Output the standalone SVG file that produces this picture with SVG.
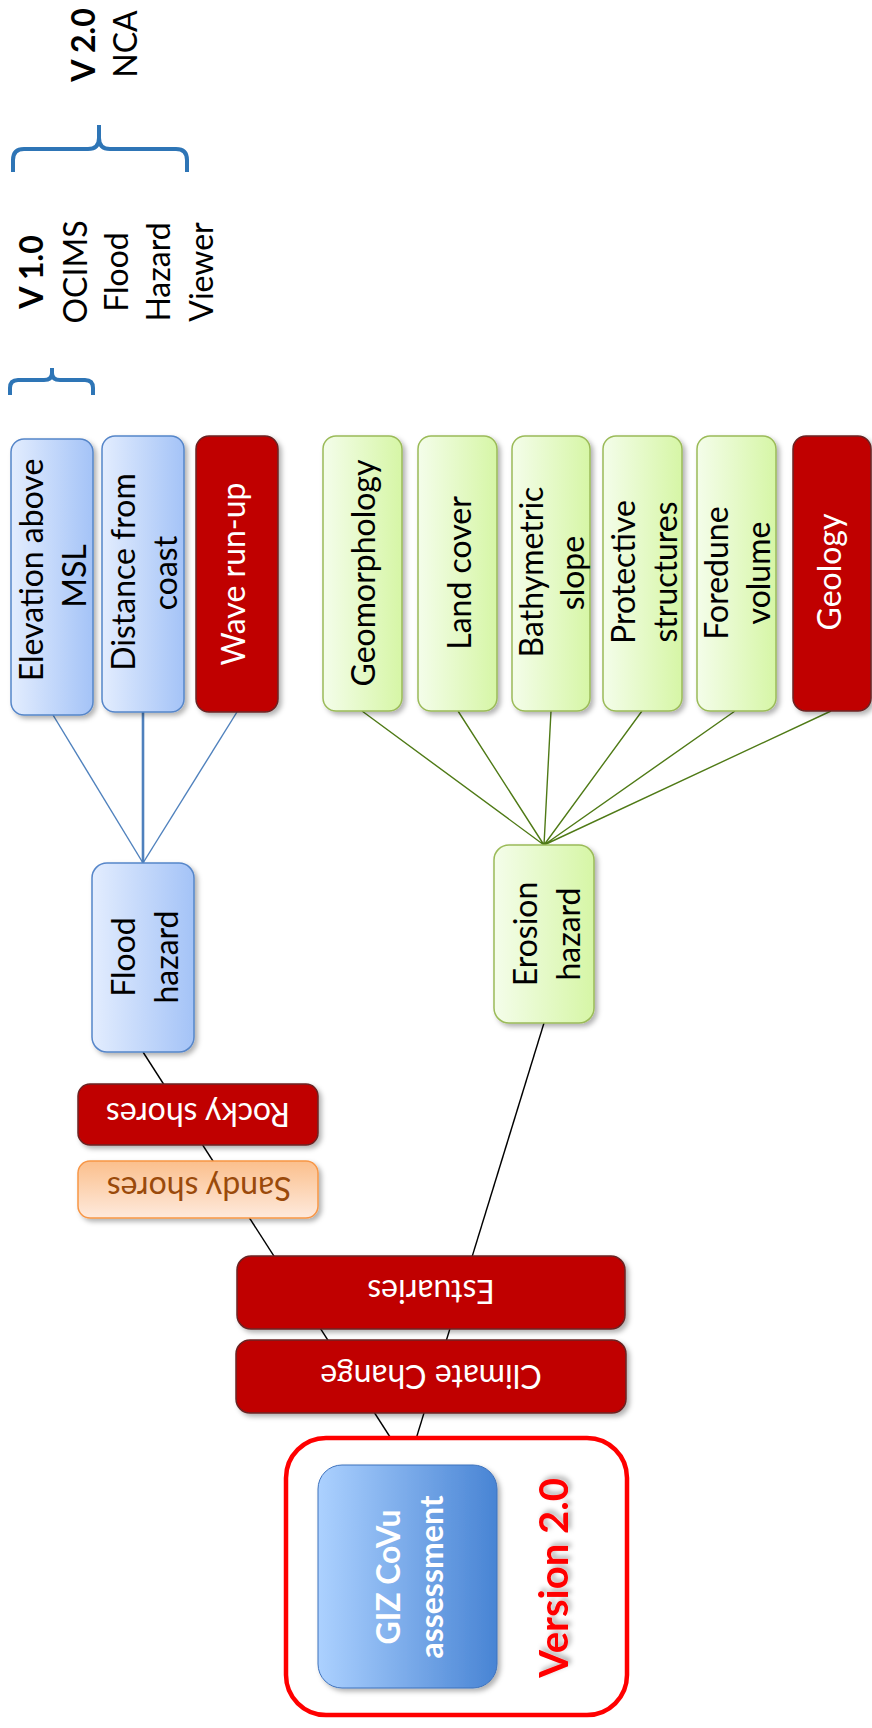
<svg xmlns="http://www.w3.org/2000/svg" width="872" height="1728" viewBox="0 0 872 1728">
  <defs>
    <linearGradient id="gBlue" x1="0" y1="0" x2="1" y2="0">
      <stop offset="0" stop-color="#e3edfe"/>
      <stop offset="1" stop-color="#a4c3f7"/>
    </linearGradient>
    <linearGradient id="gGreen" x1="0" y1="0" x2="1" y2="0">
      <stop offset="0" stop-color="#f4fdea"/>
      <stop offset="1" stop-color="#d6f6a6"/>
    </linearGradient>
    <linearGradient id="gSand" x1="0" y1="0" x2="0" y2="1">
      <stop offset="0" stop-color="#fbbf8c"/>
      <stop offset="1" stop-color="#feeadd"/>
    </linearGradient>
    <linearGradient id="gGiz" x1="0" y1="0" x2="1" y2="0">
      <stop offset="0" stop-color="#acd1ff"/>
      <stop offset="1" stop-color="#4884d4"/>
    </linearGradient>
    <filter id="shadow" x="-10%" y="-10%" width="130%" height="130%">
      <feDropShadow dx="3" dy="3" stdDeviation="2.5" flood-color="#000" flood-opacity="0.3"/>
    </filter>
  </defs>
  <style>
    .blue{fill:url(#gBlue);stroke:#5686c9;stroke-width:1.5;filter:url(#shadow)}
    .green{fill:url(#gGreen);stroke:#9bbb59;stroke-width:1.5;filter:url(#shadow)}
    .red{fill:#c00000;stroke:#6b2323;stroke-width:1.5;filter:url(#shadow)}
    .sand{fill:url(#gSand);stroke:#f79646;stroke-width:1.5;filter:url(#shadow)}
    .giz{fill:url(#gGiz);stroke:#3f73bd;stroke-width:1;filter:url(#shadow)}
    .frame{fill:#fff;stroke:#ff0000;stroke-width:4.5}
    .brace{fill:none;stroke:#2e75b6;stroke-width:4}
    text{font-family:Lato,'Liberation Sans',sans-serif;font-size:32px;text-anchor:middle;fill:#000}
    .b{font-weight:bold}
    .w{fill:#fff}
    .brown{fill:#9a4a0b}
    .lb{stroke:#4f81bd;stroke-width:1.4;fill:none}
    .lg{stroke:#4f7a16;stroke-width:1.4;fill:none}
    .lk{stroke:#000;stroke-width:1.4;fill:none}
  </style>

  <!-- version labels and braces -->
  <g id="v2-label">
    <text class="b" transform="translate(95,45) rotate(-90)">V 2.0</text>
    <text transform="translate(137,44) rotate(-90)">NCA</text>
  </g>
  <g id="v2-brace">
    <path class="brace" d="M13,172 L13,160 Q13,149 24,149 L88,149 Q99,149 99,138 L99,125 M99,138 Q99,149 110,149 L176,149 Q187,149 187,160 L187,172"/>
  </g>
  <g id="v1-label">
    <text class="b" transform="translate(43,272) rotate(-90)">V 1.0</text>
    <text transform="translate(87,272) rotate(-90)">OCIMS</text>
    <text transform="translate(128,272) rotate(-90)">Flood</text>
    <text transform="translate(170,272) rotate(-90)">Hazard</text>
    <text transform="translate(213,272) rotate(-90)">Viewer</text>
  </g>
  <g id="v1-brace">
    <path class="brace" d="M10,395 L10,388 Q10,380 18,380 L44,380 Q52,380 52,373 L52,368 M52,373 Q52,380 60,380 L85,380 Q93,380 93,388 L93,395"/>
  </g>

  <!-- connectors -->
  <g id="connectors">
    <path class="lb" d="M53,715 L143,863"/>
    <path class="lb" d="M143,712 L143,863" style="stroke-width:2.6"/>
    <path class="lb" d="M237,712 L143,863"/>
    <path class="lg" d="M362,711 L544,845 M458,711 L544,845 M551,711 L544,845 M642,711 L544,845 M735,711 L544,845 M831,711 L544,845"/>
    <path class="lk" d="M143,1052 L408,1465"/>
    <path class="lk" d="M544,1023 L408,1465"/>
  </g>

  <!-- flood hazard inputs -->
  <g id="elevation">
    <rect class="blue" x="11" y="439" width="82" height="276" rx="13"/>
    <text transform="translate(43,570) rotate(-90)">Elevation above</text>
    <text transform="translate(86,576) rotate(-90)">MSL</text>
  </g>
  <g id="distance">
    <rect class="blue" x="102" y="436" width="82" height="276" rx="13"/>
    <text transform="translate(135,572) rotate(-90)">Distance from</text>
    <text transform="translate(177,573) rotate(-90)">coast</text>
  </g>
  <g id="wave-runup">
    <rect class="red" x="196" y="436" width="82" height="276" rx="13"/>
    <text class="w" transform="translate(245,574) rotate(-90)">Wave run-up</text>
  </g>

  <!-- erosion hazard inputs -->
  <g id="geomorphology">
    <rect class="green" x="323" y="436" width="79" height="275" rx="13"/>
    <text transform="translate(375,573) rotate(-90)">Geomorphology</text>
  </g>
  <g id="land-cover">
    <rect class="green" x="418" y="436" width="79" height="275" rx="13"/>
    <text transform="translate(471,573) rotate(-90)">Land cover</text>
  </g>
  <g id="bathymetric-slope">
    <rect class="green" x="512" y="436" width="78" height="275" rx="13"/>
    <text transform="translate(543,572) rotate(-90)">Bathymetric</text>
    <text transform="translate(584,573) rotate(-90)">slope</text>
  </g>
  <g id="protective-structures">
    <rect class="green" x="603" y="436" width="79" height="275" rx="13"/>
    <text transform="translate(635,572) rotate(-90)">Protective</text>
    <text transform="translate(677,572) rotate(-90)">structures</text>
  </g>
  <g id="foredune-volume">
    <rect class="green" x="697" y="436" width="79" height="275" rx="13"/>
    <text transform="translate(728,573) rotate(-90)">Foredune</text>
    <text transform="translate(770,573) rotate(-90)">volume</text>
  </g>
  <g id="geology">
    <rect class="red" x="793" y="436" width="78" height="275" rx="13"/>
    <text class="w" transform="translate(841,572) rotate(-90)">Geology</text>
  </g>

  <!-- hazards -->
  <g id="flood-hazard">
    <rect class="blue" x="92" y="863" width="102" height="189" rx="15"/>
    <text transform="translate(135,957) rotate(-90)">Flood</text>
    <text transform="translate(178,957) rotate(-90)">hazard</text>
  </g>
  <g id="erosion-hazard">
    <rect class="green" x="494" y="845" width="100" height="178" rx="15"/>
    <text transform="translate(537,934) rotate(-90)">Erosion</text>
    <text transform="translate(580,934) rotate(-90)">hazard</text>
  </g>

  <!-- shore types and drivers -->
  <g id="rocky-shores">
    <rect class="red" x="78" y="1084" width="240" height="61" rx="12"/>
    <text class="w" transform="translate(198,1103) rotate(180)">Rocky shores</text>
  </g>
  <g id="sandy-shores">
    <rect class="sand" x="78" y="1161" width="240" height="57" rx="12"/>
    <text class="brown" transform="translate(199,1177) rotate(180)">Sandy shores</text>
  </g>
  <g id="estuaries">
    <rect class="red" x="237" y="1256" width="388" height="73" rx="14"/>
    <text class="w" transform="translate(431,1280) rotate(180)">Estuaries</text>
  </g>
  <g id="climate-change">
    <rect class="red" x="236" y="1340" width="390" height="73" rx="14"/>
    <text class="w" transform="translate(431,1365) rotate(180)">Climate Change</text>
  </g>

  <!-- assessment root -->
  <g id="version-frame">
    <rect class="frame" x="286" y="1438" width="341" height="277" rx="40"/>
    <text class="b" transform="translate(568,1578) rotate(-90)" style="font-size:40px;fill:#ff0000;filter:url(#shadow)">Version 2.0</text>
  </g>
  <g id="giz-covu">
    <rect class="giz" x="318" y="1465" width="179" height="223" rx="24"/>
    <text class="b w" transform="translate(400,1577) rotate(-90)">GIZ CoVu</text>
    <text class="b w" transform="translate(443,1577) rotate(-90)">assessment</text>
  </g>
</svg>
